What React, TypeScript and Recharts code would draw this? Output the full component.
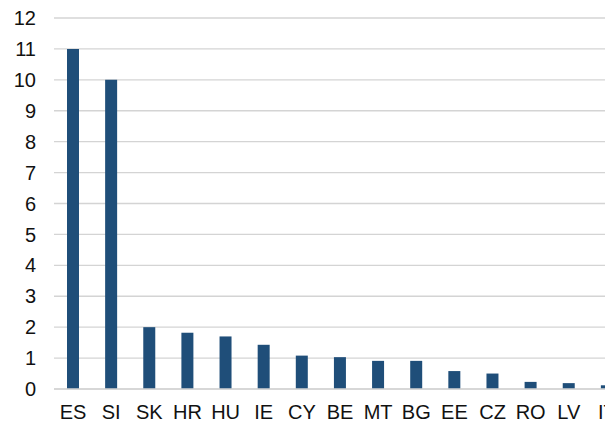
import React from "react";
import { BarChart, Bar, XAxis, YAxis, CartesianGrid } from "recharts";

const countries = ["ES", "SI", "SK", "HR", "HU", "IE", "CY", "BE", "MT", "BG", "EE", "CZ", "RO", "LV", "IT"];
const values = [11.0, 10.0, 2.0, 1.82, 1.7, 1.43, 1.08, 1.03, 0.91, 0.91, 0.58, 0.5, 0.23, 0.19, 0.12];
const yTicks = [0, 1, 2, 3, 4, 5, 6, 7, 8, 9, 10, 11, 12];

const data = countries.map((c, i) => ({ name: c, value: values[i] }));

const font = { fontFamily: "'Liberation Sans', Arial, sans-serif", fontSize: 20, fill: "#111" };

export default function App() {
  return (
    <div
      style={{
        position: "absolute",
        left: 0,
        top: 0,
        width: 605,
        height: 423,
        overflow: "hidden",
        background: "#fff",
      }}
    >
      <BarChart
        width={630}
        height={423}
        data={data}
        margin={{ top: 18, right: 4, bottom: 0, left: 0 }}
      >
        <CartesianGrid vertical={false} stroke="#d4d4d4" strokeWidth={1.3} />
        <XAxis
          dataKey="name"
          interval={0}
          height={34}
          axisLine={{ stroke: "#d4d4d4", strokeWidth: 1.3 }}
          tickLine={false}
          tickSize={0}
          tickMargin={16}
          tick={font}
        />
        <YAxis
          width={54}
          domain={[0, 12]}
          ticks={yTicks}
          interval={0}
          axisLine={false}
          tickLine={false}
          tickSize={0}
          tickMargin={18}
          tick={font}
        />
        <Bar dataKey="value" fill="#1F4E79" barSize={12} isAnimationActive={false} />
      </BarChart>
    </div>
  );
}
